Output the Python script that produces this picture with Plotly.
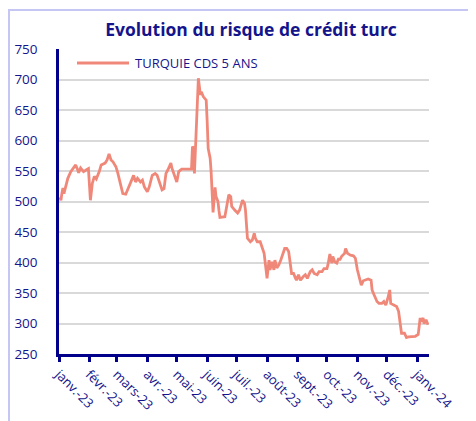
import plotly.graph_objects as go

dates = [
    "2023-01-02", "2023-01-03", "2023-01-04", "2023-01-05", "2023-01-06", "2023-01-09", "2023-01-10",
    "2023-01-13", "2023-01-16", "2023-01-18", "2023-01-20", "2023-01-21", "2023-01-23", "2023-01-26",
    "2023-01-29", "2023-01-31", "2023-02-02", "2023-02-04", "2023-02-06", "2023-02-08", "2023-02-11",
    "2023-02-13", "2023-02-17", "2023-02-19", "2023-02-21", "2023-02-23", "2023-02-25", "2023-02-28",
    "2023-03-02", "2023-03-05", "2023-03-07", "2023-03-10", "2023-03-12", "2023-03-15", "2023-03-16",
    "2023-03-18", "2023-03-20", "2023-03-22", "2023-03-25", "2023-03-27", "2023-03-29", "2023-04-01",
    "2023-04-03", "2023-04-06", "2023-04-09", "2023-04-11", "2023-04-14", "2023-04-16", "2023-04-18",
    "2023-04-20", "2023-04-22", "2023-04-25", "2023-04-26", "2023-04-29", "2023-05-01", "2023-05-03",
    "2023-05-06", "2023-05-11", "2023-05-16", "2023-05-17", "2023-05-18", "2023-05-19", "2023-05-21",
    "2023-05-23", "2023-05-25", "2023-05-26", "2023-05-28", "2023-05-31", "2023-06-01", "2023-06-02",
    "2023-06-04", "2023-06-05", "2023-06-07", "2023-06-09", "2023-06-10", "2023-06-12", "2023-06-13",
    "2023-06-14", "2023-06-19", "2023-06-21", "2023-06-23", "2023-06-25", "2023-06-26", "2023-06-29",
    "2023-07-02", "2023-07-04", "2023-07-07", "2023-07-09", "2023-07-10", "2023-07-12", "2023-07-15",
    "2023-07-17", "2023-07-19", "2023-07-20", "2023-07-22", "2023-07-25", "2023-07-27", "2023-07-29",
    "2023-08-01", "2023-08-03", "2023-08-04", "2023-08-06", "2023-08-08", "2023-08-09", "2023-08-11",
    "2023-08-13", "2023-08-15", "2023-08-17", "2023-08-19", "2023-08-21", "2023-08-23", "2023-08-26",
    "2023-08-28", "2023-08-30", "2023-08-31", "2023-09-02", "2023-09-04", "2023-09-07", "2023-09-09",
    "2023-09-11", "2023-09-14", "2023-09-16", "2023-09-18", "2023-09-21", "2023-09-23", "2023-09-26",
    "2023-09-28", "2023-10-01", "2023-10-02", "2023-10-04", "2023-10-06", "2023-10-07", "2023-10-09",
    "2023-10-11", "2023-10-13", "2023-10-14", "2023-10-16", "2023-10-19", "2023-10-20", "2023-10-22",
    "2023-10-25", "2023-10-28", "2023-10-30", "2023-11-01", "2023-11-04", "2023-11-05", "2023-11-07",
    "2023-11-09", "2023-11-12", "2023-11-15", "2023-11-16", "2023-11-18", "2023-11-21", "2023-11-23",
    "2023-11-26", "2023-11-28", "2023-11-30", "2023-12-02", "2023-12-04", "2023-12-05", "2023-12-08",
    "2023-12-11", "2023-12-13", "2023-12-15", "2023-12-16", "2023-12-19", "2023-12-21", "2023-12-23",
    "2023-12-27", "2023-12-30", "2024-01-02", "2024-01-04", "2024-01-05", "2024-01-07", "2024-01-08",
    "2024-01-10", "2024-01-12",
]

cds_5y = [
    507, 502, 514, 522, 513, 530, 538,
    549, 557, 560, 552, 547, 555, 549,
    552, 554, 502, 530, 541, 537, 549,
    560, 563, 568, 578, 568, 565, 557,
    546, 524, 513, 512, 519, 530, 535,
    543, 532, 538, 532, 535, 524, 516,
    524, 543, 546, 543, 527, 519, 521,
    546, 552, 563, 555, 541, 532, 549,
    553, 553, 553, 590, 588, 546, 642,
    702, 675, 680, 672, 666, 631, 587,
    571, 549, 482, 523, 508, 500, 485,
    474, 475, 497, 511, 508, 492, 486,
    481, 486, 502, 497, 486, 440, 434,
    437, 448, 440, 434, 434, 426, 415,
    374, 404, 388, 401, 388, 404, 391,
    396, 404, 412, 423, 423, 418, 382,
    382, 374, 371, 380, 371, 377, 380,
    374, 385, 388, 382, 380, 385, 385,
    390, 390, 396, 414, 399, 410, 401,
    399, 407, 404, 410, 415, 423, 415,
    412, 411, 407, 388, 368, 363, 370,
    371, 373, 371, 355, 347, 336, 333,
    333, 336, 330, 341, 355, 333, 330,
    328, 320, 289, 284, 284, 277, 278,
    279, 279, 282, 309, 303, 309, 300,
    306, 298,
]

series_name = "TURQUIE CDS 5 ANS"
chart_title = "Evolution du risque de crédit turc"
month_ticks = [
    "2023-01-01", "2023-02-01", "2023-03-01", "2023-04-01", "2023-05-01", "2023-06-01", "2023-07-01",
    "2023-08-01", "2023-09-01", "2023-10-01", "2023-11-01", "2023-12-01", "2024-01-01",
]
month_labels = [
    "janv.-23", "févr.-23", "mars-23", "avr.-23", "mai-23", "juin-23", "juil.-23",
    "août-23", "sept.-23", "oct.-23", "nov.-23", "déc.-23", "janv.-24",
]

NAVY = "#14148c"
AXIS = "#00008b"
LINE = "#F0887A"
FONT = "'Open Sans', Lato, sans-serif"

fig = go.Figure()
fig.add_trace(go.Scatter(
    x=dates, y=cds_5y, mode="lines", name=series_name,
    line=dict(color=LINE, width=2.8), showlegend=False,
))

OFF = 8  # page body margin
W, H = 476 - OFF, 421 - OFF
L, T = 59 - OFF, 49 - OFF
R = W - (429 - OFF)
B = H - (354 - OFF)
pw, ph = W - L - R, H - T - B

def px(xw):
    return (xw - OFF - L) / pw

def py(yw):
    return 1 - (yw - OFF - T) / ph

fig.update_layout(
    width=W, height=H,
    margin=dict(l=L, r=R, t=T, b=B, autoexpand=False),
    paper_bgcolor="white", plot_bgcolor="white",
    font=dict(family=FONT, color=NAVY, size=13),
    title=dict(text="<b>" + chart_title + "</b>", x=(251 - OFF) / W, xref="container", xanchor="center",
               y=1 - (30 - OFF) / H, yref="container", yanchor="middle",
               font=dict(size=17.5, color=NAVY, family=FONT)),
    xaxis=dict(
        type="date", range=["2023-01-01", "2024-01-13"],
        tickvals=month_ticks, ticktext=month_labels, tickangle=45,
        showline=True, linecolor=AXIS, linewidth=2.5,
        ticks="outside", ticklen=5, tickwidth=2.5, tickcolor=AXIS,
        showgrid=False, zeroline=False,
        tickfont=dict(size=13, color=NAVY, family=FONT),
    ),
    yaxis=dict(
        range=[250, 750], dtick=50, tick0=250,
        showline=True, linecolor=AXIS, linewidth=2.5,
        ticks="outside", ticklen=16, tickcolor="rgba(0,0,0,0)",
        showgrid=True, gridcolor="#d9d9d9", gridwidth=1.5,
        zeroline=False,
        tickfont=dict(size=13.5, color=NAVY, family=FONT),
    ),
    shapes=[
        dict(type="rect", xref="paper", yref="paper",
             x0=px(OFF + 1), x1=px(520), y0=py(470), y1=py(10),
             line=dict(color="#c6c6f4", width=2), fillcolor="rgba(0,0,0,0)", layer="below"),
        dict(type="line", xref="paper", yref="paper",
             x0=px(77), x1=px(129), y0=py(63), y1=py(63),
             line=dict(color=LINE, width=2.8)),
    ],
    annotations=[
        dict(text=series_name, xref="paper", yref="paper", x=px(133), y=py(63),
             xanchor="left", yanchor="middle", showarrow=False,
             font=dict(size=13, color=NAVY, family=FONT)),
    ],
)

fig.write_html("out.html")
